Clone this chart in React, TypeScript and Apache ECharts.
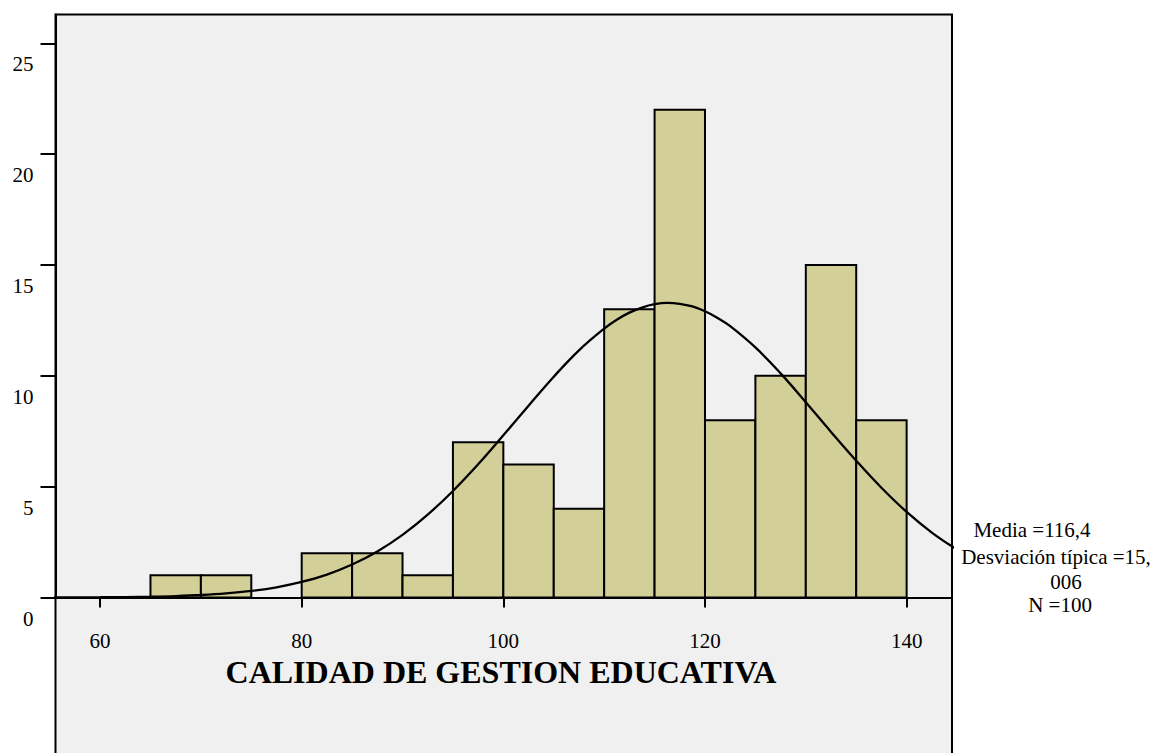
import React, { useEffect, useRef } from "react";
import * as echarts from "echarts";

const binStarts = [65, 70, 75, 80, 85, 90, 95, 100, 105, 110, 115, 120, 125, 130, 135];
const binWidth = 5;
const counts = [1, 1, 0, 2, 2, 1, 7, 6, 4, 13, 22, 8, 10, 15, 8];

const curveX = [55, 57.5, 60, 62.5, 65, 67.5, 70, 72.5, 75, 77.5, 80, 82.5, 85, 87.5, 90, 92.5, 95, 97.5, 100, 102.5, 105, 107.5, 110, 111.25, 112.5, 113.75, 115, 116.25, 117.5, 118.75, 120, 121.25, 122.5, 125, 127.5, 130, 132.5, 135, 137.5, 140, 142.5, 145];
const curveY = [0.003, 0.006, 0.011, 0.021, 0.038, 0.066, 0.112, 0.184, 0.296, 0.461, 0.70, 1.035, 1.487, 2.08, 2.827, 3.74, 4.807, 6.01, 7.315, 8.65, 9.96, 11.15, 12.13, 12.53, 12.85, 13.08, 13.23, 13.29, 13.25, 13.13, 12.91, 12.61, 12.24, 11.28, 10.11, 8.81, 7.47, 6.17, 4.95, 3.86, 2.93, 2.16];

const xTicks = [60, 80, 100, 120, 140];
const yTicks = [0, 5, 10, 15, 20, 25];

const xTitle = "CALIDAD DE GESTION EDUCATIVA";
const statLines = ["Media =116,4", "Desviación típica =15,", "006", "N =100"];

const FONT = "Liberation Serif";

export default function App() {
  const ref = useRef<HTMLDivElement>(null);
  useEffect(() => {
    if (!ref.current) return;
    const chart = echarts.init(ref.current, null, { renderer: "svg" });
    const barData = binStarts
      .map((s, i) => [s, s + binWidth, counts[i]])
      .filter((d) => d[2] > 0);
    const curveData = curveX.map((x, i) => [x, curveY[i]]);
    const statPos = [
      [1032, 530],
      [1056, 557],
      [1066, 582],
      [1060, 605],
    ];
    chart.setOption({
      animation: false,
      backgroundColor: "#ffffff",
      grid: { left: 55.5, right: 203, top: 14.5, bottom: 155.5, containLabel: false },
      xAxis: {
        type: "value",
        min: 55.58,
        max: 144.5,
        axisLine: { show: true, onZero: false, lineStyle: { color: "#000", width: 2 } },
        axisTick: { show: true, customValues: xTicks, length: 10, inside: false, lineStyle: { color: "#000", width: 2 } },
        axisLabel: { customValues: xTicks, margin: 33, fontSize: 21, fontFamily: FONT, color: "#000" },
        splitLine: { show: false },
      },
      yAxis: {
        type: "value",
        min: 0,
        max: 26.3,
        axisLine: { show: true, lineStyle: { color: "#000", width: 2 } },
        axisTick: { show: true, customValues: yTicks, length: 15, inside: false, lineStyle: { color: "#000", width: 2 } },
        axisLabel: {
          customValues: yTicks,
          margin: 22,
          fontSize: 21,
          fontFamily: FONT,
          color: "#000",
          verticalAlign: "top",
          lineHeight: 42,
        },
        splitLine: { show: false },
      },
      graphic: [
        {
          type: "rect",
          z: -10,
          shape: { x: 55.5, y: 14.5, width: 896.5, height: 740 },
          style: { fill: "#f0f0f0" },
          silent: true,
        },
        {
          type: "polyline",
          z: 10,
          shape: { points: [[55.5, 754], [55.5, 14.5], [952, 14.5], [952, 754]] },
          style: { stroke: "#000", lineWidth: 2, fill: "none" },
          silent: true,
        },
        {
          type: "text",
          x: 501,
          y: 672,
          style: {
            text: xTitle,
            font: `bold 32px "${FONT}"`,
            fill: "#000",
            textAlign: "center",
            textVerticalAlign: "middle",
          },
        },
        ...statLines.map((t, i) => ({
          type: "text",
          x: statPos[i][0],
          y: statPos[i][1],
          style: {
            text: t,
            font: `21px "${FONT}"`,
            fill: "#000",
            textAlign: "center",
            textVerticalAlign: "middle",
          },
        })),
      ],
      series: [
        {
          type: "custom",
          data: barData,
          encode: { x: [0, 1], y: 2 },
          renderItem: (params: any, api: any) => {
            const x0 = api.value(0);
            const x1 = api.value(1);
            const c = api.value(2);
            const p0 = api.coord([x0, 0]);
            const p1 = api.coord([x1, c]);
            return {
              type: "rect",
              shape: { x: p0[0], y: p1[1], width: p1[0] - p0[0], height: p0[1] - p1[1] },
              style: { fill: "#d3cf99", stroke: "#000", lineWidth: 2 },
            };
          },
          z: 2,
        },
        {
          type: "line",
          data: curveData,
          smooth: 0.4,
          showSymbol: false,
          symbol: "none",
          clip: true,
          lineStyle: { color: "#000", width: 2.3 },
          z: 3,
        },
      ],
    });
    return () => chart.dispose();
  }, []);
  return (
    <div
      ref={ref}
      style={{ position: "fixed", left: 0, top: 0, width: 1155, height: 753 }}
    />
  );
}
